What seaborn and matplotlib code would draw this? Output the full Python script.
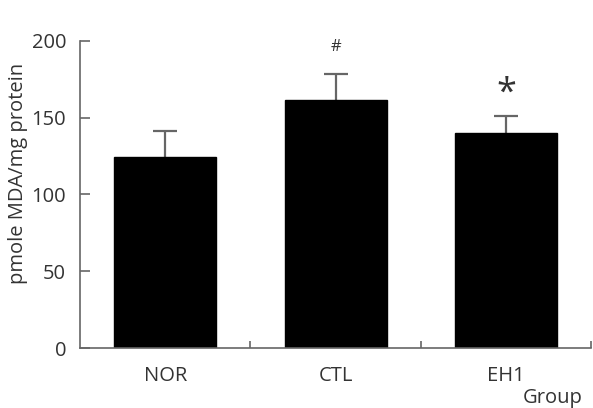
import matplotlib
matplotlib.use("Agg")
import matplotlib.pyplot as plt
import seaborn as sns
import pandas as pd

# --- Data ---
groups = ["NOR", "CTL", "EH1"]
mda = [124.5, 161.5, 140.0]
sd_upper = [16.5, 17.0, 11.0]
marks = ["", "#", "*"]

sns.set_theme(style="white")
plt.rcParams["font.family"] = ["Open Sans", "DejaVu Sans"]
GREY = "#666666"
TXT = "#333333"

df = pd.DataFrame({"Group": groups, "MDA": mda})
df["top"] = df["MDA"] + pd.Series(sd_upper)

fig = plt.figure(figsize=(5.93, 4.08), dpi=100)
ax = fig.add_axes([0.135, 0.147, 0.862, 0.753])

sns.barplot(data=df, x="Group", y="MDA", color="black", width=0.6,
            saturation=1, edgecolor="black", ax=ax, zorder=2)

# upper-only error bars with a cap at the top
xs = range(len(groups))
ax.vlines(xs, df["MDA"], df["top"], color=GREY, lw=1.6, zorder=1)
ax.hlines(df["top"], [x - 0.07 for x in xs], [x + 0.07 for x in xs],
          color=GREY, lw=1.6, zorder=1)

# significance marks
ax.text(1, df["top"][1] + 12, marks[1], ha="center", va="bottom",
        fontsize=12, color=TXT)
ax.text(2, df["top"][2] + 3, marks[2], ha="center", va="bottom",
        fontsize=26, color=TXT)

ax.set_xlim(-0.5, 2.5)
ax.set_ylim(0, 200)
ax.set_yticks([0, 50, 100, 150, 200])

# labels at bar centres, tick marks between bars
ax.set_xticks([0, 1, 2])
ax.set_xticks([0.5, 1.5, 2.5], minor=True)
ax.tick_params(axis="x", which="major", length=0, pad=13, labelsize=14.5,
               labelcolor=TXT)
ax.tick_params(axis="x", which="minor", direction="in", length=5,
               width=1.2, color=GREY, bottom=True)
ax.tick_params(axis="y", direction="in", length=7, width=1.2, color=GREY,
               labelsize=14.5, labelcolor=TXT, pad=10, left=True)

for side in ["top", "right"]:
    ax.spines[side].set_visible(False)
for side in ["left", "bottom"]:
    ax.spines[side].set_color(GREY)
    ax.spines[side].set_linewidth(1.2)

ax.set_ylabel("")
ax.set_xlabel("")
fig.text(0.03, 0.575, "pmole MDA/mg protein", fontsize=14.5, color=TXT,
         rotation=90, ha="center", va="center")
fig.text(0.882, 0.0, "Group", fontsize=14.5, color=TXT, ha="left",
         va="bottom")

fig.savefig("out.png", dpi=100)
